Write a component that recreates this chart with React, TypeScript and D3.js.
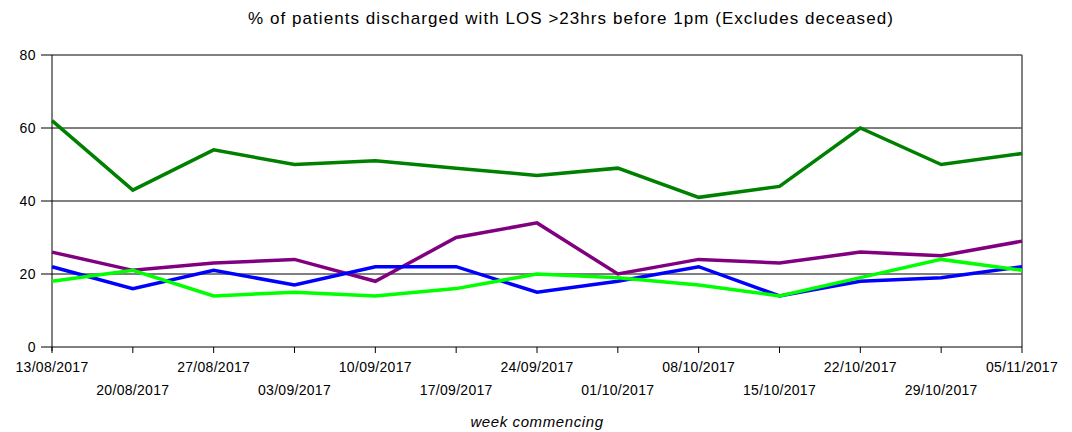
import React from "react";
import * as d3 from "d3";

const weeks = ["13/08/2017","20/08/2017","27/08/2017","03/09/2017","10/09/2017","17/09/2017","24/09/2017","01/10/2017","08/10/2017","15/10/2017","22/10/2017","29/10/2017","05/11/2017"];
const darkGreen = [62, 43, 54, 50, 51, 49, 47, 49, 41, 44, 60, 50, 53];
const purple = [26, 21, 23, 24, 18, 30, 34, 20, 24, 23, 26, 25, 29];
const blue = [22, 16, 21, 17, 22, 22, 15, 18, 22, 14, 18, 19, 22];
const lime = [18, 21, 14, 15, 14, 16, 20, 19, 17, 14, 19, 24, 21];
const yTicks = [0, 20, 40, 60, 80];

const series = [
  { name: "darkGreen", values: darkGreen, color: "#008000" },
  { name: "purple", values: purple, color: "#800080" },
  { name: "blue", values: blue, color: "#0000FF" },
  { name: "lime", values: lime, color: "#00FF00" },
];

const W = 1072, H = 432;
const left = 52, right = 1022, top = 55, bottom = 347;
const font = "'Liberation Sans', Arial, sans-serif";

export default function App() {
  const x = d3.scalePoint<string>().domain(weeks).range([left, right]);
  const y = d3.scaleLinear().domain([0, 80]).range([bottom, top]);
  const line = d3.line<number>().x((_, i) => x(weeks[i]) as number).y((d) => y(d));

  return (
    <svg width={W} height={H} style={{ position: "absolute", left: 0, top: 0, background: "#fff" }}>
      <rect x={0} y={0} width={W} height={H} fill="#fff" />
      <text x={571} y={24} textAnchor="middle" fontFamily={font} fontSize={17} letterSpacing={1.05} fill="#000">
        % of patients discharged with LOS &gt;23hrs before 1pm (Excludes deceased)
      </text>
      {yTicks.map((t) => (
        <g key={t}>
          {t > 0 && <line x1={left} x2={right} y1={y(t)} y2={y(t)} stroke="#000" strokeWidth={1} />}
          <line x1={left - 11} x2={left} y1={y(t)} y2={y(t)} stroke="#000" strokeWidth={1} />
          <text x={36} y={y(t)} dy="0.36em" textAnchor="end" fontFamily={font} fontSize={14} letterSpacing={0.5} fill="#000">{t}</text>
        </g>
      ))}
      <line x1={right} x2={right} y1={top} y2={bottom} stroke="#555" strokeWidth={1.5} />
      <line x1={left} x2={left} y1={top} y2={bottom + 4} stroke="#000" strokeWidth={1} />
      <line x1={left} x2={right} y1={bottom} y2={bottom} stroke="#000" strokeWidth={1} />
      {weeks.map((w, i) => (
        <g key={w}>
          <line x1={x(w)} x2={x(w)} y1={bottom} y2={bottom + 6} stroke="#000" strokeWidth={1} />
          <text x={x(w)} y={i % 2 === 0 ? 372 : 395} textAnchor="middle" fontFamily={font} fontSize={14} letterSpacing={0.3} fill="#000">{w}</text>
        </g>
      ))}
      <text x={537} y={427} textAnchor="middle" fontFamily={font} fontSize={15} fontStyle="italic" letterSpacing={0.6} fill="#000">week commencing</text>
      {series.map((s) => (
        <path key={s.name} d={line(s.values) || ""} fill="none" stroke={s.color} strokeWidth={3.5} strokeLinejoin="miter" />
      ))}
    </svg>
  );
}
